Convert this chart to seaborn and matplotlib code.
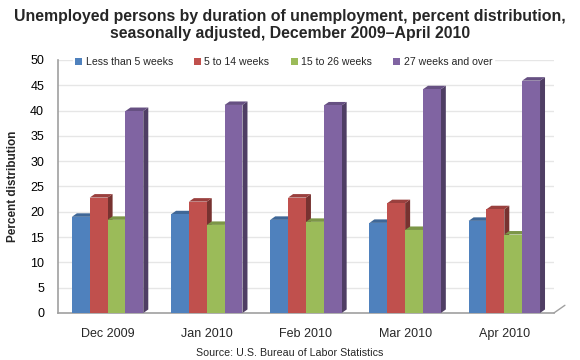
import matplotlib
matplotlib.use("Agg")
import matplotlib.pyplot as plt
import matplotlib.colors as mcolors
from matplotlib.patches import Polygon
import seaborn as sns
import pandas as pd

# Data
months = ["Dec 2009", "Jan 2010", "Feb 2010", "Mar 2010", "Apr 2010"]
less_than_5 = [19.0, 19.5, 18.4, 17.8, 18.2]
weeks_5_14 = [22.8, 22.0, 22.8, 21.7, 20.5]
weeks_15_26 = [18.4, 17.4, 18.0, 16.4, 15.5]
weeks_27_over = [39.9, 41.1, 41.0, 44.2, 45.9]
series_names = ["Less than 5 weeks", "5 to 14 weeks", "15 to 26 weeks", "27 weeks and over"]
colors = ["#4F81BD", "#C0504D", "#9BBB59", "#8064A2"]

rows = []
for name, vals in zip(series_names, [less_than_5, weeks_5_14, weeks_15_26, weeks_27_over]):
    for m, v in zip(months, vals):
        rows.append({"month": m, "series": name, "value": v})
df = pd.DataFrame(rows)

sns.set_style("white")
plt.rcParams["font.family"] = ["Liberation Sans", "DejaVu Sans"]

fig = plt.figure(figsize=(5.8, 3.6), dpi=100)
ax_w, ax_h = 0.855, 0.703
ax = fig.add_axes([0.1, 0.1306, ax_w, ax_h])

sns.barplot(data=df, x="month", y="value", hue="series", palette=colors,
            width=0.72, saturation=1, ax=ax, legend=False, zorder=3)

ax.set_xlim(-0.5, 4.5)
ax.set_ylim(0, 50)
ax.set_yticks(range(0, 51, 5))
ax.yaxis.grid(True, color="#E6E6E6", lw=1, zorder=0)
ax.set_axisbelow(True)

# fake 3-D depth for each bar
dx = 5 * 5 / (ax_w * 580)
dy = 3.5 * 50 / (ax_h * 360)
bars = sorted(ax.patches, key=lambda p: p.get_x())
for i, b in enumerate(bars):
    x0, w, h = b.get_x(), b.get_width(), b.get_height()
    x1 = x0 + w
    base = mcolors.to_rgb(b.get_facecolor())
    side = tuple(c * 0.62 for c in base)
    top = tuple(c * 0.8 for c in base)
    b.set_zorder(3 + i * 0.01)
    b.set_edgecolor("none")
    ax.add_patch(Polygon([(x1, 0), (x1 + dx, dy), (x1 + dx, h + dy), (x1, h)],
                         closed=True, fc=side, ec="none", zorder=3 + i * 0.01 - 0.005,
                         clip_on=False))
    ax.add_patch(Polygon([(x0, h), (x0 + dx, h + dy), (x1 + dx, h + dy), (x1, h)],
                         closed=True, fc=top, ec="none", zorder=3 + i * 0.01 - 0.005,
                         clip_on=False))

# floor edge on the right
ax.plot([4.5, 4.5 + dx * 2.2], [0, dy * 2.2], color="#A0A0A0", lw=1, clip_on=False)

for s in ["top", "right"]:
    ax.spines[s].set_visible(False)
for s in ["left", "bottom"]:
    ax.spines[s].set_color("#A0A0A0")
    ax.spines[s].set_linewidth(1.2)

ax.tick_params(axis="y", length=0, labelsize=9, pad=10, colors="black")
ax.tick_params(axis="x", which="major", length=0, labelsize=9, pad=11)
ax.set_xticks([i + 0.5 for i in range(-1, 5)], minor=True)
ax.tick_params(axis="x", which="minor", length=5, color="#A0A0A0", width=1)

ax.set_xlabel("")
ax.set_ylabel("Percent distribution", fontsize=8.5, fontweight="bold", labelpad=8)

handles = [plt.Rectangle((0, 0), 1, 1, fc=c, ec="none") for c in colors]
leg = ax.legend(handles, series_names, loc="center", bbox_to_anchor=(0.455, 0.99),
                ncol=4, frameon=True, fontsize=7.6, handlelength=0.7, handleheight=0.7,
                handletextpad=0.3, columnspacing=2.0, borderpad=0.2)
leg.get_frame().set_edgecolor("white")
leg.get_frame().set_facecolor("white")
leg.get_frame().set_alpha(1)
leg.set_zorder(10)

fig.text(0.5, 0.93, "Unemployed persons by duration of unemployment, percent distribution,\n"
         "seasonally adjusted, December 2009\u2013April 2010",
         ha="center", va="center", fontsize=11.4, fontweight="bold", linespacing=1.2)
fig.text(0.5, 0.019, "Source: U.S. Bureau of Labor Statistics", ha="center", va="center",
         fontsize=7.7)

fig.savefig("out.png", dpi=100)
